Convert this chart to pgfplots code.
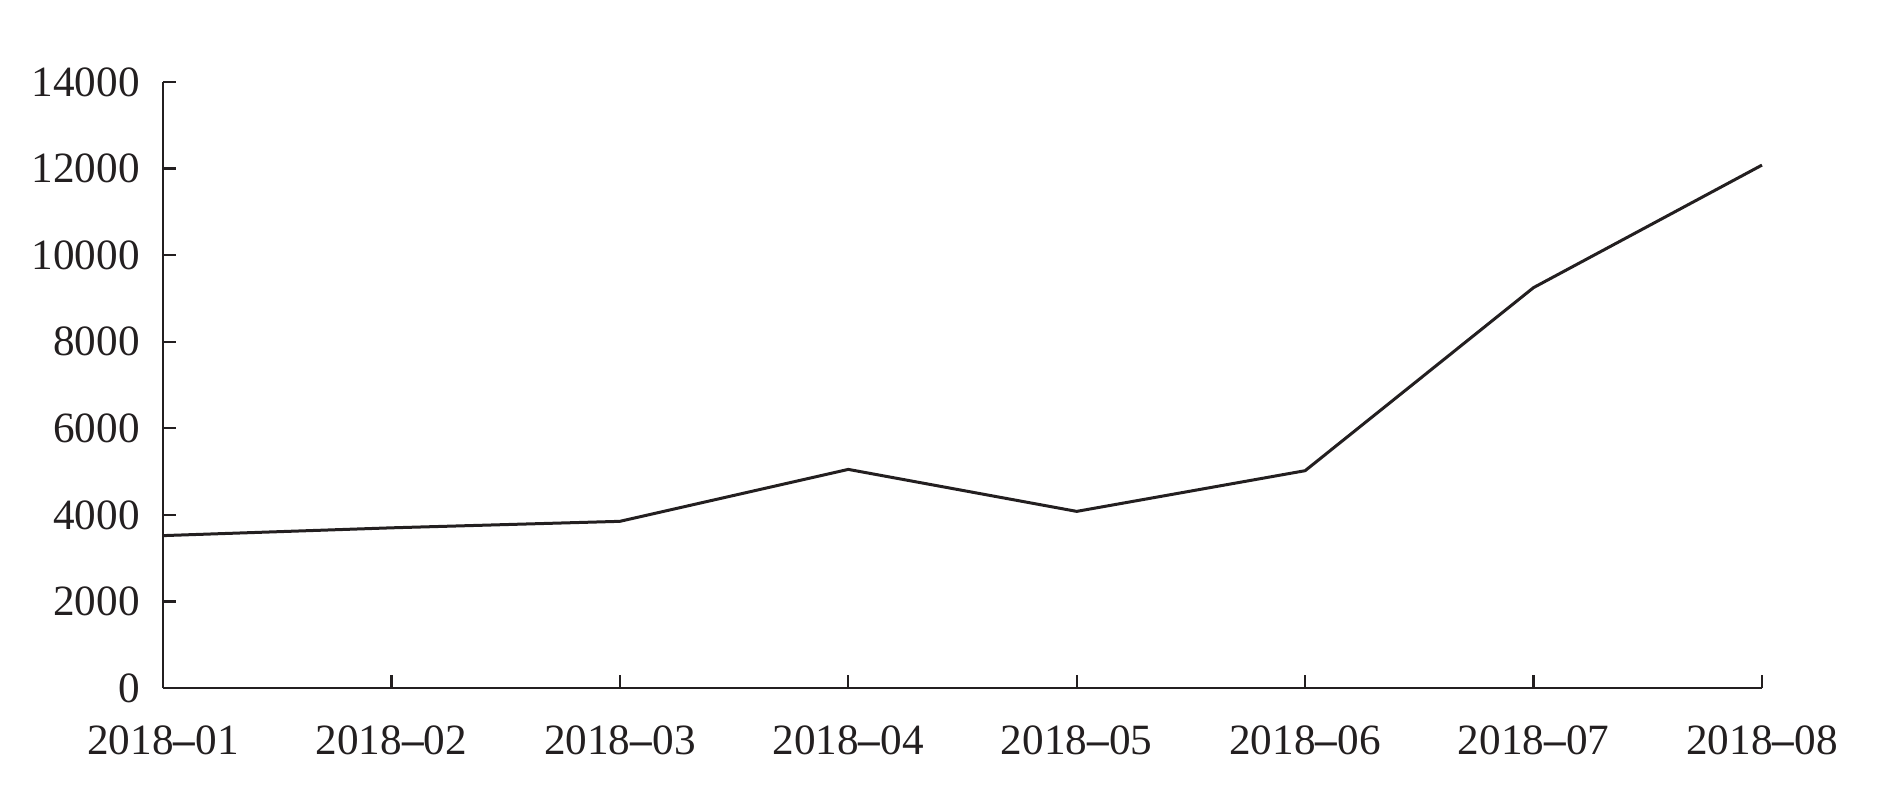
\documentclass[border=0pt]{standalone}
\usepackage{fontspec}
\setmainfont{Liberation Serif}
\usepackage{pgfplots}
\pgfplotsset{compat=1.18}
\definecolor{linecol}{RGB}{35,31,32}
\newcommand{\dsh}{\textbf{--}}
\begin{document}
\begin{tikzpicture}
\begin{axis}[
  scale only axis,
  width=399.75pt, height=151.5pt,
  axis lines=left,
  axis line style={-, linecol, line width=0.6pt},
  xmin=0, xmax=7, ymin=0, ymax=14000,
  xtick={0,1,2,3,4,5,6,7},
  xticklabels={2018\dsh01,2018\dsh02,2018\dsh03,2018\dsh04,2018\dsh05,2018\dsh06,2018\dsh07,2018\dsh08},
  ytick={0,2000,4000,6000,8000,10000,12000,14000},
  tick align=inside,
  major tick length=3.2pt,
  tick style={linecol, line width=0.6pt},
  /pgf/number format/assume math mode=true,
  scaled y ticks=false,
  yticklabel={\pgfmathprintnumber[fixed,1000 sep={}]{\tick}},
  ticklabel style={font=\fontsize{10.8}{12}\selectfont, text=linecol},
  yticklabel style={xshift=-2.3pt},
  xticklabel style={yshift=-6pt},
  clip=false,
]
\addplot[linecol, line width=0.75pt, mark=none] coordinates {
  (0,3520) (1,3700) (2,3850) (3,5050) (4,4080) (5,5020) (6,9250) (7,12080)
};
\end{axis}
\path (-40.75pt,-27.75pt) rectangle (429.25pt,172pt);
\end{tikzpicture}
\end{document}
